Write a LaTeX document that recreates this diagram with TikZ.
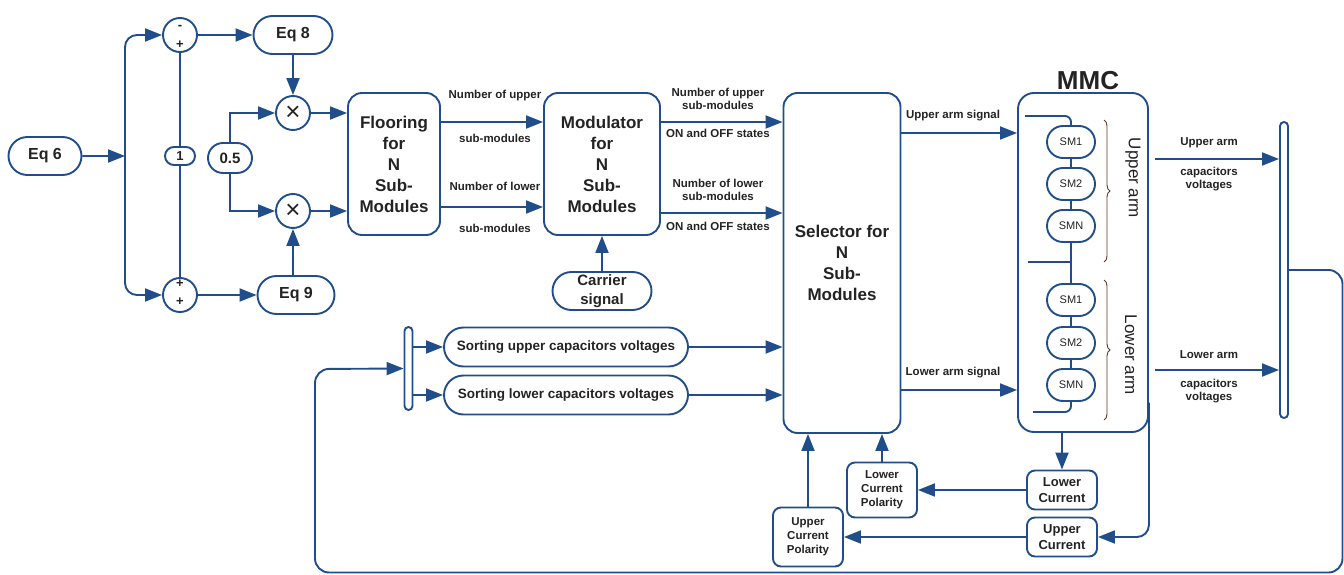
\documentclass[tikz,border=0pt]{standalone}
\usepackage{fontspec}
\setmainfont{Liberation Sans}
\usetikzlibrary{arrows.meta,shapes.misc,decorations.pathreplacing}
\definecolor{mblue}{RGB}{33,78,138}
\definecolor{mtext}{RGB}{35,35,35}
\definecolor{mbrace}{RGB}{95,55,40}
\newcommand{\fsz}[2]{\fontsize{#1}{#2}\selectfont}

\begin{document}
\begin{tikzpicture}[x=1pt,y=-1pt,color=mblue,line width=1.9pt,
  >={Triangle[length=17pt,width=13pt]},
  pill/.style={draw=mblue,rounded rectangle,inner sep=0pt,align=center,text=mtext,font=\fsz{16}{18}\bfseries},
  blockbox/.style={draw=mblue,rounded corners=14pt,inner sep=0pt,align=center,text=mtext,font=\fsz{17}{21}\bfseries},
  smallbox/.style={draw=mblue,rounded corners=8pt,inner sep=0pt,align=center,text=mtext},
  sumc/.style={draw=mblue,circle,minimum size=34pt,inner sep=0pt,text=mtext,font=\fsz{13}{13}\bfseries},
  multc/.style={sumc,font=\fsz{26}{26}},
  sgn/.style={text=mtext,inner sep=0pt,font=\fsz{13}{13}\bfseries},
  lbl/.style={text=mtext,inner sep=0pt,align=center,font=\fsz{11.5}{13}\bfseries},
  sm/.style={pill,minimum width=48pt,minimum height=32pt,font=\fsz{11}{13}},
  bar/.style={draw=mblue,rounded corners=4pt,inner sep=0pt,minimum width=8pt},
  brc/.style={draw=mbrace,line width=0.9pt,decorate,decoration={brace,amplitude=6pt}}]
\useasboundingbox (0,0) rectangle (1344,575);

\node[pill,minimum width=73pt,minimum height=38pt] (eq6) at (45,156) {Eq 6};
\coordinate (jn) at (125,156);
\node[sumc] (s1) at (180,35) {};
\node[sumc] (s2) at (180,295) {};
\node[sgn] (s1a) at (180,27) {-};
\node[sgn] (s1b) at (180,45) {+};
\node[sgn] (s2a) at (180,284) {+};
\node[sgn] (s2b) at (180,302) {+};
\node[pill,minimum width=30pt,minimum height=18pt,font=\fsz{13}{13}\bfseries] (one) at (180,156) {1};
\node[pill,minimum width=79pt,minimum height=38pt] (eq8) at (293,35) {Eq 8};
\node[pill,minimum width=77pt,minimum height=38pt] (eq9) at (296,295) {Eq 9};
\node[multc] (m1) at (293,113) {×};
\node[multc] (m2) at (293,211) {×};
\node[pill,minimum width=44pt,minimum height=30pt,font=\fsz{15}{15}\bfseries] (half) at (230,158) {0.5};

\draw[->] (eq6) -- (jn);
\draw[->,rounded corners=12pt] (jn) |- (s1);
\draw[->,rounded corners=12pt] (jn) |- (s2);
\draw (s1) -- (one);
\draw (one) -- (s2);
\draw[->] (s1) -- (eq8);
\draw[->] (s2) -- (eq9);
\draw[->] (eq8) -- (m1);
\draw[->] (eq9.north -| m2) -- (m2);
\draw[->] (half.north) |- (m1);
\draw[->] (half.south) |- (m2);

\node[blockbox,minimum width=92pt,minimum height=142pt] (floor) at (394,164) {Flooring\\for\\N\\Sub-\\Modules};
\node[blockbox,minimum width=116pt,minimum height=142pt] (mod) at (602,164) {Modulator\\for\\N\\Sub-\\Modules};
\node[pill,minimum width=99pt,minimum height=38pt,font=\fsz{15}{19}\bfseries] (car) at (602,291) {Carrier\\signal};
\node[blockbox,minimum width=117pt,minimum height=340pt] (sel) at (842,263) {Selector for\\N\\Sub-\\Modules};

\draw[->] (m1) -- (m1 -| floor.west);
\draw[->] (m2) -- (m2 -| floor.west);
\draw[->] ([yshift=42pt]floor.east) -- ([yshift=42pt]mod.west);
\draw[->] ([yshift=-43pt]floor.east) -- ([yshift=-43pt]mod.west);
\draw[->] ([yshift=42pt]mod.east) -- ([yshift=42pt]mod.east -| sel.west);
\draw[->] ([yshift=-49pt]mod.east) -- ([yshift=-49pt]mod.east -| sel.west);
\draw[->] (car) -- (mod);

\node[lbl] (fu1) at (495,96) {Number of upper};
\node[lbl] (fu2) at (495,138) {sub-modules};
\node[lbl] (fl1) at (495,186) {Number of lower};
\node[lbl] (fl2) at (495,228) {sub-modules};
\node[lbl] (mu1) at (718,98.5) {Number of upper\\sub-modules};
\node[lbl] (mu2) at (718,133) {ON and OFF states};
\node[lbl] (ml1) at (718,190) {Number of lower\\sub-modules};
\node[lbl] (ml2) at (718,226) {ON and OFF states};

\node[bar,minimum height=83pt] (lbar) at (408.5,368.5) {};
\node[pill,minimum width=244pt,minimum height=39pt,font=\fsz{13.5}{15}\bfseries] (sortu) at (566,347) {Sorting upper capacitors voltages};
\node[pill,minimum width=244pt,minimum height=39pt,font=\fsz{13.5}{15}\bfseries] (sortl) at (566,395) {Sorting lower capacitors voltages};
\draw[->] (lbar.east |- sortu) -- (sortu);
\draw[->] (lbar.east |- sortl) -- (sortl);
\draw[->] (sortu) -- (sortu -| sel.west);
\draw[->] (sortl) -- (sortl -| sel.west);

\node[draw=mblue,rounded corners=16pt,minimum width=130pt,minimum height=339pt] (mmc) at (1083,262.5) {};
\node[text=mtext,inner sep=0pt,font=\fsz{26}{26}\bfseries] (mmct) at (1088,81) {MMC};
\foreach \n/\y/\t in {su1/142/SM1,su2/184/SM2,su3/226/SMN,sl1/300/SM1,sl2/343/SM2,sl3/385/SMN}
  \node[sm] (\n) at (1071,\y) {\t};
\draw (su1) -- (su2) -- (su3) -- (sl1) -- (sl2) -- (sl3);
\coordinate (armtop) at (1025,116);
\coordinate (armmid) at (1071,262);
\coordinate (armmidl) at (1028,262);
\coordinate (armbot) at (1033,412);
\draw[rounded corners=6pt] (armtop) -| (su1);
\draw (armmid) -- (armmidl);
\draw[rounded corners=6pt] (sl3) |- (armbot);
\draw[brc] (1104,120) -- (1104,262);
\draw[brc] (1104,280) -- (1104,420);
\node[rotate=-90,text=mtext,inner sep=0pt,font=\fsz{17}{17}] (uarm) at (1133,178) {Upper arm};
\node[rotate=-90,text=mtext,inner sep=0pt,font=\fsz{17}{17}] (larm) at (1131,355) {Lower arm};

\draw[->] ([yshift=130pt]sel.east) -- ([yshift=130pt]sel.east -| mmc.west);
\draw[->] ([yshift=-127pt]sel.east) -- ([yshift=-127pt]sel.east -| mmc.west);
\node[lbl] (uas) at (953,116) {Upper arm signal};
\node[lbl] (las) at (953,373) {Lower arm signal};

\node[bar,minimum height=296pt] (rbar) at (1284,270) {};
\coordinate (ucv) at (1155,159);
\coordinate (lcv) at (1155,370);
\draw[->] (ucv) -- (ucv -| rbar.west);
\draw[->] (lcv) -- (lcv -| rbar.west);
\node[lbl] (ucv1) at (1209,143) {Upper arm};
\node[lbl] (ucv2) at (1209,179) {capacitors\\voltages};
\node[lbl] (lcv1) at (1209,355) {Lower arm};
\node[lbl] (lcv2) at (1209,391) {capacitors\\voltages};

\coordinate (fb1) at (1342.5,572.5);
\coordinate (fb2) at (315,369);
\draw[->,rounded corners=14pt] (rbar.east) -| (fb1) -| (fb2) -- (lbar.west);

\node[smallbox,minimum width=70pt,minimum height=39pt,font=\fsz{13}{16}\bfseries] (lcur) at (1062,490) {Lower\\Current};
\node[smallbox,minimum width=70pt,minimum height=39pt,font=\fsz{13}{16}\bfseries] (ucur) at (1062,537) {Upper\\Current};
\node[smallbox,minimum width=70pt,minimum height=55pt,font=\fsz{11.5}{14}\bfseries] (lcp) at (882,490) {Lower\\Current\\Polarity};
\node[smallbox,minimum width=70pt,minimum height=59pt,font=\fsz{11.5}{14}\bfseries] (ucp) at (808,537) {Upper\\Current\\Polarity};
\draw[->] (lcur |- mmc.south) -- (lcur);
\draw[->] (lcur) -- (lcp);
\draw[->] (ucur) -- (ucp);
\draw[->] (lcp) -- (lcp |- sel.south);
\draw[->] (ucp) -- (ucp |- sel.south);
\draw[->,rounded corners=12pt] ([yshift=-140pt]mmc.east) |- (ucur);
\end{tikzpicture}
\end{document}
